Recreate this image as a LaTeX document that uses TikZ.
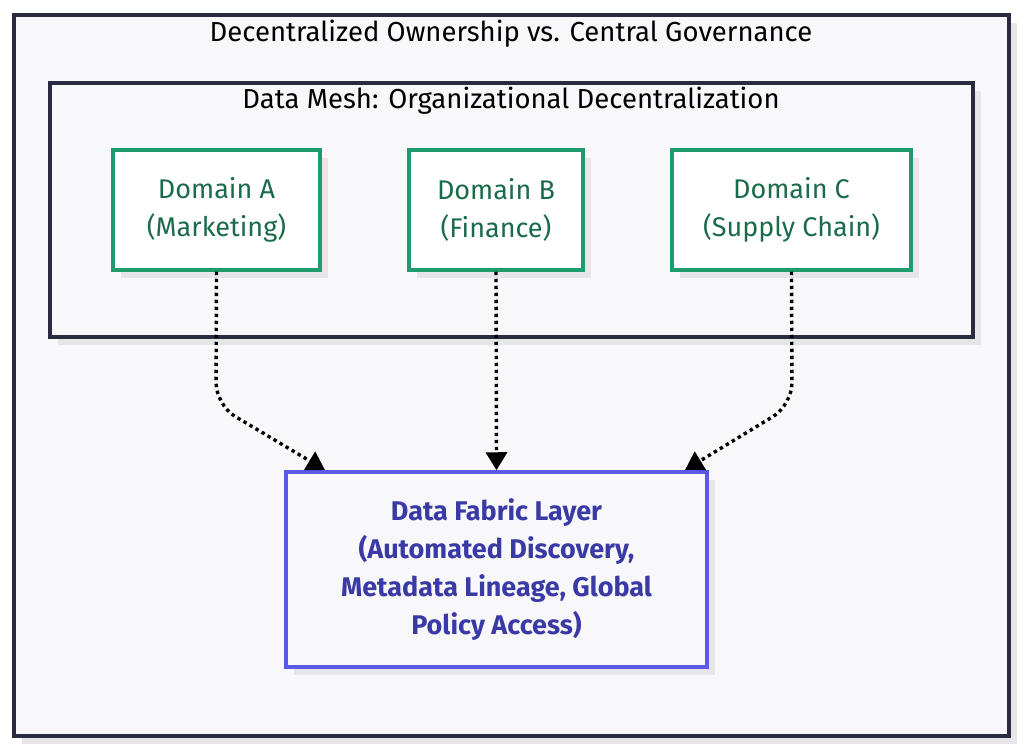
\documentclass[tikz,border=0pt]{standalone}
\usepackage{fontspec}
\setmainfont{Fira Sans}
\usetikzlibrary{positioning, arrows.meta, shadows}

\definecolor{frameblue}{HTML}{2A2A40}
\definecolor{paper}{HTML}{F8F8FA}
\definecolor{shade}{HTML}{E6E6E8}
\definecolor{domgreen}{HTML}{1E9A6C}
\definecolor{domtext}{HTML}{1A6B4A}
\definecolor{fabline}{HTML}{5A5AE6}
\definecolor{fabtext}{HTML}{3A3AA6}

\begin{document}
\begin{tikzpicture}[
    x=1pt, y=-1pt,
    groupbox/.style={draw=frameblue, line width=3.5pt, fill=paper,
      drop shadow={shadow xshift=8pt, shadow yshift=-8pt, fill=shade, opacity=1}},
    dombox/.style={draw=domgreen, line width=3.5pt, fill=white, text=domtext,
      align=center, font=\fontsize{27}{38}\selectfont, minimum height=120pt,
      drop shadow={shadow xshift=8pt, shadow yshift=-8pt, fill=shade, opacity=1}},
    fabbox/.style={draw=fabline, line width=3.5pt, fill=paper, text=fabtext,
      align=center, font=\fontsize{27}{38}\selectfont\bfseries,
      minimum width=421pt, minimum height=195pt,
      drop shadow={shadow xshift=8pt, shadow yshift=-8pt, fill=shade, opacity=1}},
    grouplbl/.style={font=\fontsize{27.5}{30}\selectfont, text=black},
    flow/.style={line width=3.4pt, dash pattern=on 3.4pt off 3.6pt, rounded corners=22pt,
      -{Triangle[length=18pt, width=21pt]}}
  ]

  \useasboundingbox[fill=white] (0,0) rectangle (1024,751);

  % outer group and the data mesh group
  \node[groupbox, minimum width=995pt, minimum height=721pt] (outer) at (511.5,375.5) {};
  \node[grouplbl] (outerlbl) at (511,34) {Decentralized Ownership vs. Central Governance};
  \node[groupbox, minimum width=923pt, minimum height=254pt] (mesh) at (511.5,210) {};
  \node[grouplbl] (meshlbl) at (511,101) {Data Mesh: Organizational Decentralization};

  % domains
  \node[dombox, minimum width=207pt] (domA) at (216.5,210) {Domain A\\(Marketing)};
  \node[dombox, minimum width=174pt] (domB) at (496,210) {Domain B\\(Finance)};
  \node[dombox, minimum width=239pt] (domC) at (791.5,210) {Domain C\\(Supply Chain)};

  % fabric layer
  \node[fabbox] (fab) at (496.5,569.5)
    {Data Fabric Layer\\(Automated Discovery,\\Metadata Lineage, Global\\Policy Access)};

  \coordinate (bendA) at (216,405);
  \coordinate (bendC) at (792,405);
  \coordinate (inA) at (325,470);
  \coordinate (inC) at (685,470);

  \draw[flow] (domA.south) -- (bendA) -- (inA);
  \draw[flow] (domB.south) -- (fab.north);
  \draw[flow] (domC.south) -- (bendC) -- (inC);

\end{tikzpicture}
\end{document}
